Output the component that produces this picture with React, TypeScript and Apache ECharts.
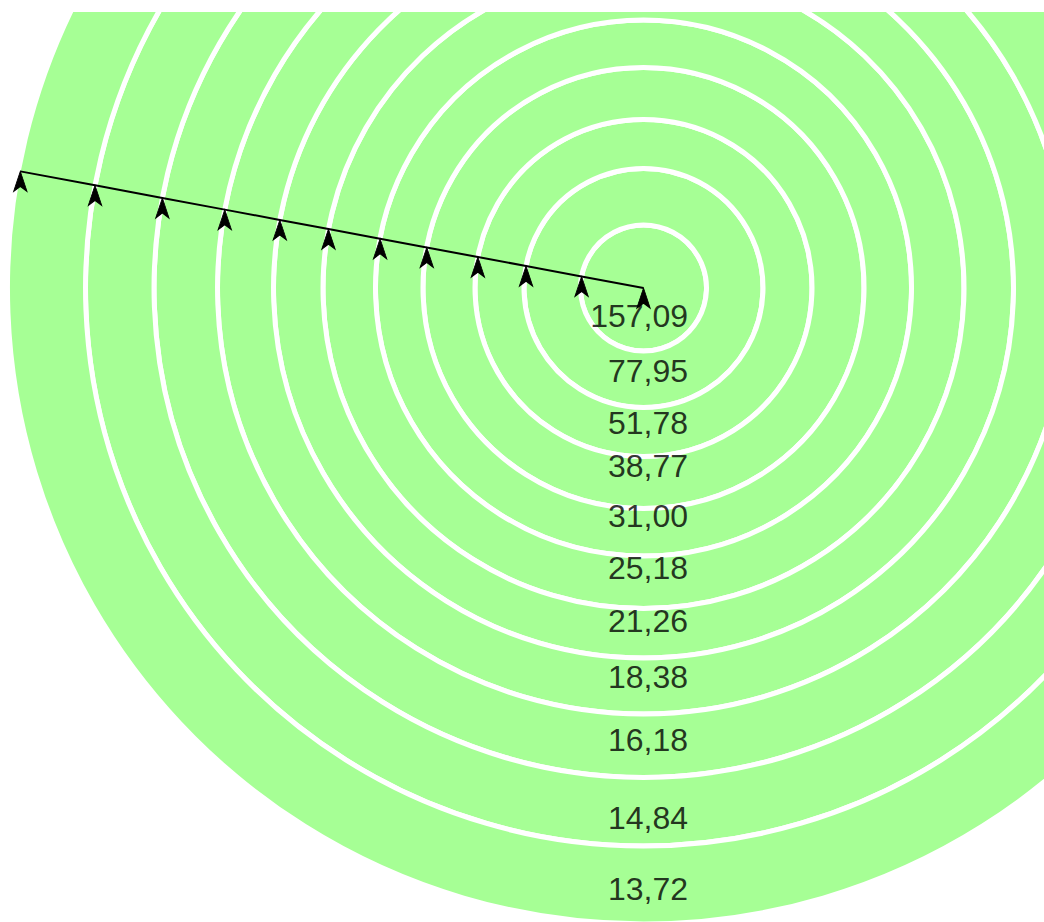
import React, { useEffect, useRef } from 'react';
import * as echarts from 'echarts';

// Ring values (labels), outer radius of each ring on the radius axis, label anchor radius
const ringValues = [157.09, 77.95, 51.78, 38.77, 31.0, 25.18, 21.26, 18.38, 16.18, 14.84, 13.72];
const ringOuterRadius = [63, 119.5, 168.5, 220.5, 268, 320.5, 370, 426, 489.5, 558, 634];
const labelRadius = [28.5, 83.5, 135.5, 178.5, 228.5, 280.5, 333.5, 389.5, 453, 530.5, 602];
const lineAngle = 169.4;
const labelAngle = 270;
const radiusMax = 636;

const GREEN = '#a6ff95';

export default function App() {
  const ref = useRef<HTMLDivElement>(null);
  useEffect(() => {
    if (!ref.current) return;
    const chart = echarts.init(ref.current, null, { renderer: 'svg' });
    const center = [643.5, 276];
    const hiddenAxis = {
      axisLine: { show: false },
      axisTick: { show: false },
      axisLabel: { show: false },
      splitLine: { show: false },
      splitArea: { show: false },
    };
    const ringSeries = ringOuterRadius.map((r, i) => ({
      type: 'bar',
      coordinateSystem: 'polar',
      polarIndex: 0,
      stack: 'rings',
      name: 'ring' + i,
      data: [r - (i > 0 ? ringOuterRadius[i - 1] : 0) + (i === ringOuterRadius.length - 1 ? 2 : 0)],
      barWidth: '100%',
      barCategoryGap: '0%',
      silent: true,
      clip: false,
      itemStyle: { color: GREEN, borderColor: '#ffffff', borderWidth: 5 },
      z: 1,
    }));
    const option = {
      animation: false,
      backgroundColor: '#ffffff',
      polar: [
        { center, radius: radiusMax },
        { center, radius: radiusMax },
      ],
      angleAxis: [
        { polarIndex: 0, type: 'category', data: ['rings'], boundaryGap: true, ...hiddenAxis },
        { polarIndex: 1, type: 'value', min: 0, max: 360, startAngle: 0, clockwise: false, ...hiddenAxis },
      ],
      radiusAxis: [
        { polarIndex: 0, type: 'value', min: 0, max: radiusMax, ...hiddenAxis },
        { polarIndex: 1, type: 'value', min: 0, max: radiusMax, ...hiddenAxis },
      ],
      series: [
        ...ringSeries,
        {
          type: 'line',
          coordinateSystem: 'polar',
          polarIndex: 1,
          data: [0, ...ringOuterRadius].map((r) => [r, lineAngle]),
          symbol: 'arrow',
          symbolSize: [10, 20],
          showSymbol: true,
          showAllSymbol: true,
          clip: false,
          silent: true,
          lineStyle: { color: '#000000', width: 2 },
          itemStyle: { color: '#000000', borderColor: '#000000', borderWidth: 1 },
          z: 3,
        },
        {
          type: 'scatter',
          coordinateSystem: 'polar',
          polarIndex: 1,
          data: labelRadius.map((r) => [r, labelAngle]),
          symbolSize: 1,
          silent: true,
          clip: false,
          itemStyle: { color: 'rgba(0,0,0,0)' },
          label: {
            show: true,
            position: 'inside',
            align: 'right',
            verticalAlign: 'middle',
            offset: [44.5, -1],
            formatter: (p: any) => ringValues[p.dataIndex].toFixed(2).replace('.', ','),
            fontSize: 32,
            fontFamily: '"Liberation Sans", Arial, sans-serif',
            color: '#000000',
            textBorderWidth: 0,
            textBorderColor: 'transparent',
          },
          z: 4,
        },
      ],
    };
    chart.setOption(option as any);
    return () => chart.dispose();
  }, []);
  return (
    <div
      ref={ref}
      style={{ position: 'fixed', left: 0, top: 12, width: 1044, height: 910 }}
    />
  );
}
